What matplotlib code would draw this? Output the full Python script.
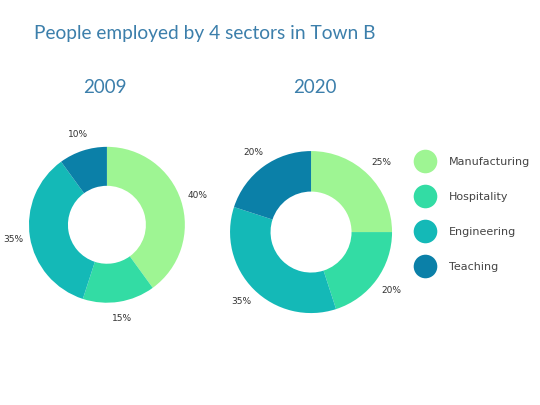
import matplotlib.pyplot as plt
from matplotlib.lines import Line2D

# sector shares (%), clockwise from 12 o'clock
sectors = ['Manufacturing', 'Hospitality', 'Engineering', 'Teaching']
share_2009 = [40, 15, 35, 10]
share_2020 = [25, 20, 35, 20]
colors = ['#9ef593', '#33dca4', '#14b9b7', '#0b80a8']

fig = plt.figure(figsize=(5.4, 4.05), dpi=100)
fig.patch.set_facecolor('white')

title_color = '#3c7fab'
fig.text(0.063, 0.918, 'People employed by 4 sectors in Town B', fontsize=13.8,
         color=title_color, family='Lato', va='center', ha='left')


def donut(rect, values):
    ax = fig.add_axes(rect)
    ax.pie(values, colors=colors, startangle=90, counterclock=False,
           wedgeprops=dict(width=0.5, edgecolor='none'),
           autopct='%d%%', pctdistance=1.22,
           textprops=dict(fontsize=6.5, color='#333333'))
    ax.set_xlim(-1.5, 1.5)
    ax.set_ylim(-1.5, 1.5)
    ax.set_aspect('equal')
    return ax


# 2009 donut
donut([-0.0185, 0.156, 0.433, 0.578], share_2009)
# 2020 donut
donut([0.351, 0.127, 0.45, 0.6], share_2020)

fig.text(0.195, 0.785, '2009', fontsize=13.5, color=title_color, family='Lato',
         ha='center', va='center')
fig.text(0.583, 0.785, '2020', fontsize=13.5, color=title_color, family='Lato',
         ha='center', va='center')

handles = [Line2D([], [], marker='o', linestyle='none', markersize=17,
                  markerfacecolor=c, markeredgecolor='none') for c in colors]
leg = fig.legend(handles, sectors, loc='upper left', bbox_to_anchor=(0.758, 0.624),
                 frameon=False, fontsize=8, labelspacing=2.26,
                 handletextpad=1.2, borderaxespad=0)
for t in leg.get_texts():
    t.set_color('#444444')

fig.savefig('out.png', dpi=100)
